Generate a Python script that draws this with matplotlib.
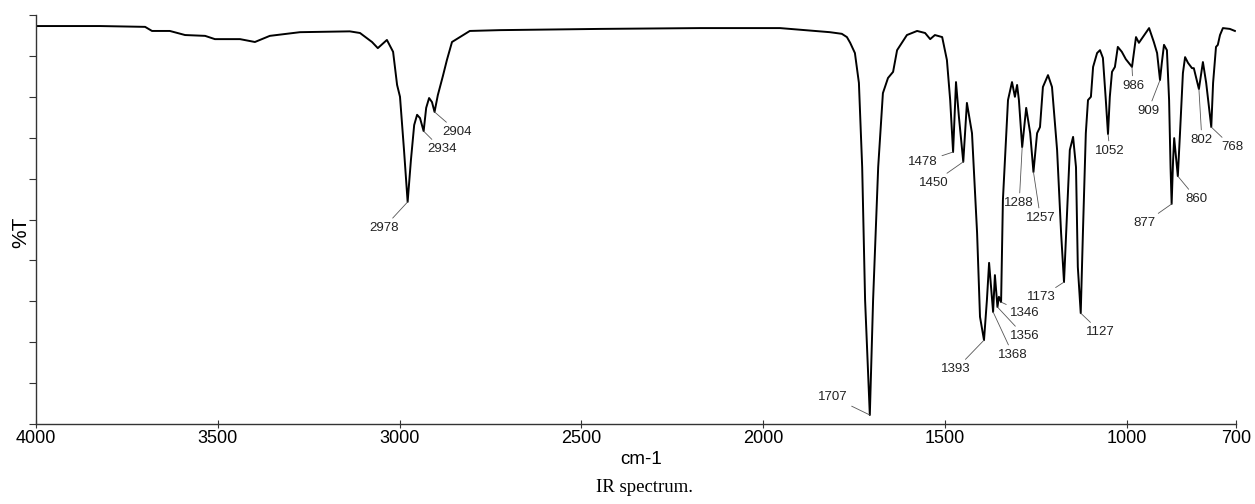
import matplotlib
matplotlib.use('Agg')
import matplotlib.pyplot as plt
import numpy as np

plt.rcParams['font.family'] = ['Liberation Sans', 'DejaVu Sans']

# spectrum: wavenumber (cm-1) and %T
wavenumber = [4000, 3824, 3700, 3681, 3632, 3590, 3535, 3508, 3439, 3398,
              3357, 3274, 3137, 3109, 3076, 3060, 3035, 3018, 3007, 2999,
              2988, 2978, 2969, 2960, 2952, 2944, 2934, 2927, 2919, 2911,
              2904, 2895, 2881, 2870, 2856, 2834, 2807, 2724, 2449, 2174,
              1954, 1817, 1784, 1770, 1761, 1748, 1737, 1728, 1720, 1707,
              1698, 1684, 1671, 1657, 1643, 1632, 1605, 1577, 1555, 1541,
              1528, 1508, 1495, 1486, 1478, 1470, 1462, 1450, 1440, 1426,
              1412, 1404, 1393, 1385, 1379, 1368, 1363, 1356, 1352, 1346,
              1341, 1327, 1316, 1308, 1302, 1297, 1288, 1277, 1266, 1257,
              1247, 1239, 1231, 1217, 1206, 1192, 1181, 1173, 1165, 1157,
              1148, 1140, 1135, 1127, 1121, 1113, 1107, 1099, 1093, 1082,
              1074, 1066, 1058, 1052, 1047, 1041, 1033, 1025, 1014, 1003,
              986, 975, 967, 956, 939, 926, 917, 909, 904, 898,
              890, 884, 880, 877, 873, 870, 865, 860, 854, 846,
              840, 832, 821, 816, 802, 791, 782, 768, 763, 755,
              750, 744, 736, 717, 703]
transmittance = [97.3, 97.3, 97.1, 96.1, 96.1, 95.1, 94.9, 94.1, 94.1, 93.4,
                 94.9, 95.8, 96.0, 95.6, 93.4, 91.9, 93.9, 91.0, 82.9, 80.0,
                 67.0, 54.3, 64.5, 73.1, 75.6, 74.8, 71.6, 77.3, 79.7, 78.7,
                 76.3, 80.4, 85.1, 89.0, 93.4, 94.6, 96.1, 96.3, 96.6, 96.8,
                 96.8, 95.8, 95.4, 94.6, 93.2, 90.7, 83.4, 62.8, 30.3, 2.2,
                 30.3, 62.8, 80.9, 84.6, 86.1, 91.4, 95.1, 96.1, 95.6, 94.1,
                 95.1, 94.6, 89.0, 79.2, 66.5, 83.6, 75.1, 64.1, 78.5, 71.1,
                 46.7, 26.2, 20.5, 30.3, 39.4, 27.4, 36.4, 28.6, 31.1, 29.8,
                 54.8, 79.2, 83.6, 80.0, 82.9, 79.2, 67.7, 77.3, 71.1, 61.6,
                 71.1, 72.6, 82.4, 85.3, 82.4, 67.0, 46.7, 34.7, 50.6, 67.0,
                 70.2, 62.8, 38.4, 27.1, 46.7, 71.1, 79.2, 80.0, 87.3, 90.7,
                 91.4, 89.5, 79.2, 70.9, 80.0, 86.1, 87.3, 92.2, 91.0, 89.2,
                 87.3, 94.6, 93.2, 94.6, 96.8, 93.4, 90.7, 84.1, 88.3, 92.7,
                 91.4, 79.2, 62.8, 53.8, 64.5, 69.9, 65.3, 60.6, 71.1, 85.8,
                 89.7, 88.3, 87.0, 87.0, 81.9, 88.5, 83.4, 72.6, 83.4, 92.2,
                 92.7, 95.1, 96.8, 96.6, 96.1]

# labelled peaks
peaks = [2978, 2934, 2904, 1707, 1478, 1450, 1393, 1368, 1356, 1346,
         1288, 1257, 1173, 1127, 1052, 986, 909, 877, 860, 802, 768]
# label offsets from the peak, in pixels (x right, y up)
label_offsets = [(-24, -26), (18, -18), (23, -20), (-37, 18), (-30, -10),
                 (-30, -21), (-28, -29), (20, -43), (27, -29), (24, -11),
                 (-3, -56), (7, -46), (-23, -15), (20, -19), (2, -17),
                 (1, -19), (-12, -31), (-27, -19), (19, -23), (3, -51),
                 (21, -20)]

x_ticks = [4000, 3500, 3000, 2500, 2000, 1500, 1000, 700]


fig = plt.figure(figsize=(12.55, 5.04), dpi=100)
ax = fig.add_axes([36 / 1255, 1 - 424 / 504, 1200 / 1255, 409 / 504])

ax.plot(wavenumber, transmittance, color='black', lw=1.4,
        solid_joinstyle='round')

wn_sorted = np.array(wavenumber[::-1])
t_sorted = np.array(transmittance[::-1])
for pk, (dx, dy) in zip(peaks, label_offsets):
    ty = np.interp(pk, wn_sorted, t_sorted)
    ax.annotate(str(pk), xy=(pk, ty), xytext=(dx, dy),
                textcoords='offset pixels', ha='center', va='center',
                fontsize=9.5, color='#222222',
                arrowprops=dict(arrowstyle='-', color='#555555', lw=0.6,
                                shrinkA=1, shrinkB=0))

ax.set_xlim(4000, 700)
ax.set_ylim(0, 100)
ax.set_xticks(x_ticks)
ax.set_xticklabels([str(t) for t in x_ticks], fontsize=13)
ax.set_yticks(np.arange(0, 101, 10))
ax.set_yticklabels([])
ax.tick_params(axis='x', direction='inout', length=6, width=0.8, pad=1,
               color='#333333')
ax.tick_params(axis='y', direction='out', length=5, width=0.8,
               color='#333333')

for side in ['top', 'right']:
    ax.spines[side].set_visible(False)
for side in ['left', 'bottom']:
    ax.spines[side].set_color('#333333')
    ax.spines[side].set_linewidth(1.0)

fig.text(21 / 1255, 1 - 232 / 504, '%T', rotation=90, fontsize=15,
         ha='center', va='center')
fig.text(641 / 1255, 1 - 460 / 504, 'cm-1', fontsize=13.5,
         ha='center', va='center')
fig.text(645 / 1255, 1 - 488 / 504, 'IR spectrum.', fontsize=13.5,
         family='Liberation Serif', ha='center', va='center')

plt.savefig('out.png')
